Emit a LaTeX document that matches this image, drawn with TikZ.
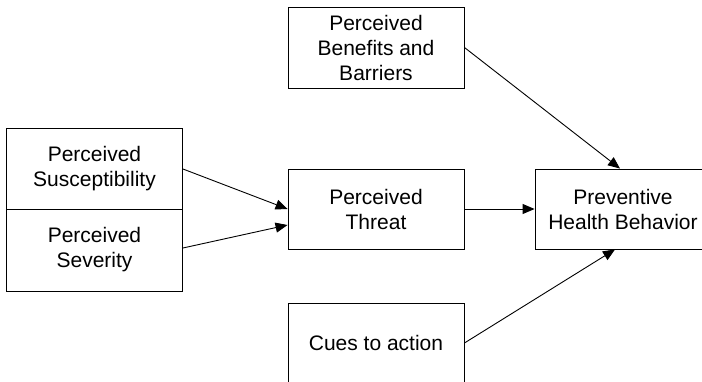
\documentclass[tikz,border=0pt]{standalone}
\usepackage{fontspec}
\setmainfont{Liberation Sans}
\usetikzlibrary{arrows.meta}
\begin{document}
\begin{tikzpicture}[x=1pt,y=-1pt,
  box/.style={draw, line width=0.9pt, minimum width=176pt, minimum height=80pt, inner sep=0pt, align=center,
    font=\fontsize{21pt}{25pt}\selectfont},
  conn/.style={line width=0.9pt, -{Triangle[length=12pt,width=10pt]}}]
\useasboundingbox (0,0) rectangle (702,382);
\clip (0,0) rectangle (702,382);
\node[box, minimum height=81pt] (sus) at (94.5,168.5) {Perceived\\Susceptibility};
\node[box, minimum height=82pt] (sev) at (94.5,250) {Perceived\\Severity};
\node[box, minimum height=81pt] (ben) at (376,47.5) {Perceived\\Benefits and\\Barriers};
\node[box] (thr) at (376,209) {Perceived\\Threat};
\node[box] (phb) at (623,209) {Preventive\\Health Behavior};
\node[box] (cue) at (376,343) {Cues to action};
\draw[conn] ([yshift=-0.5pt]sus.east) -- (thr.west);
\draw[conn] ([yshift=2pt]sev.east) -- ([yshift=-16pt]thr.west);
\draw[conn] (thr.east) -- (phb.west);
\draw[conn] (ben.east) -- ([xshift=-3pt]phb.north);
\draw[conn] (cue.east) -- ([xshift=-8pt]phb.south);
\end{tikzpicture}
\end{document}
